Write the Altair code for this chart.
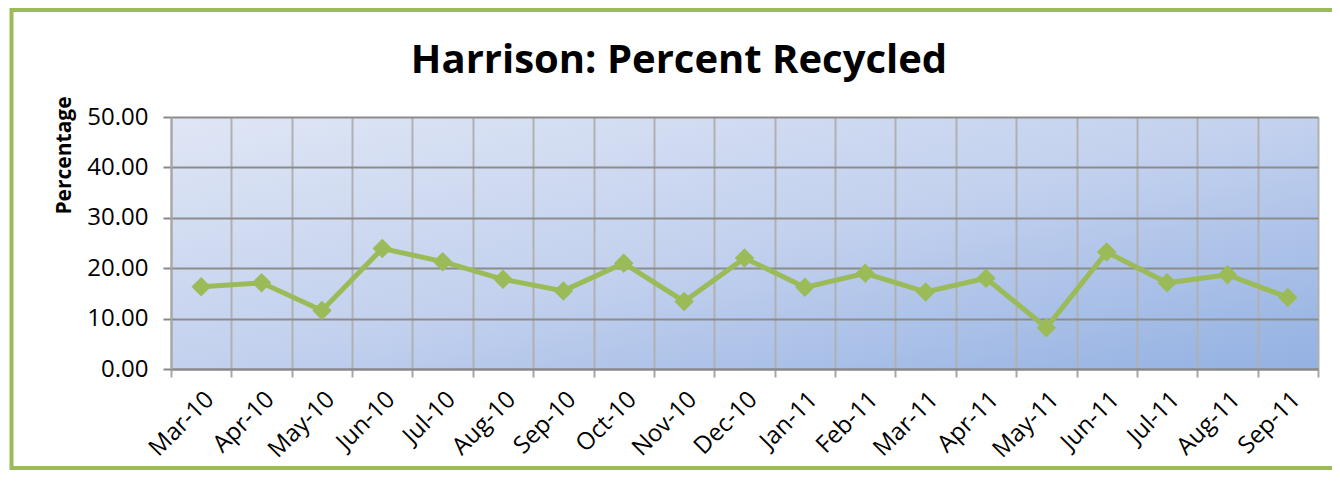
import altair as alt
import pandas as pd

months = ["Mar-10", "Apr-10", "May-10", "Jun-10", "Jul-10", "Aug-10", "Sep-10",
          "Oct-10", "Nov-10", "Dec-10", "Jan-11", "Feb-11", "Mar-11", "Apr-11",
          "May-11", "Jun-11", "Jul-11", "Aug-11", "Sep-11"]
percent = [16.3, 17.1, 11.6, 23.9, 21.3, 17.8, 15.5, 21.0, 13.4, 22.0,
           16.2, 19.0, 15.3, 18.0, 8.2, 23.2, 17.1, 18.7, 14.2]
y_ticks = [0, 10, 20, 30, 40, 50]
title_text = "Harrison: Percent Recycled"
y_title = "Percentage"

df = pd.DataFrame({"Month": months, "Percentage": percent})

FONT = "Open Sans"
GREEN = "#9bbb59"

x_enc = alt.X(
    "Month:N", sort=months,
    scale=alt.Scale(type="band", paddingInner=0, paddingOuter=0),
    axis=alt.Axis(title=None, labelAngle=315, labelAlign="right", labelBaseline="top",
                  labelFont=FONT, labelFontSize=24, labelColor="black", labelPadding=10,
                  tickBand="extent", tickSize=8, tickColor="#a6a6a6", tickWidth=2,
                  grid=True, gridColor="#b0b0b0", gridWidth=2,
                  domainColor="#888888", domainWidth=2, labelOverlap=False),
)
y_enc = alt.Y(
    "Percentage:Q",
    scale=alt.Scale(domain=[0, 50], nice=False),
    axis=alt.Axis(values=y_ticks, format=".2f", title=y_title,
                  titleFont=FONT, titleFontSize=21, titleFontWeight="bold", titleColor="black",
                  titleAngle=270, titleX=-101, titleY=38, titleAlign="center",
                  titleBaseline="alphabetic",
                  labelFont=FONT, labelFontSize=24, labelColor="black", labelPadding=15,
                  tickSize=8, tickColor="#888888", tickWidth=2,
                  grid=True, gridColor="#8c8c8c", gridWidth=2,
                  domainColor="#a6a6a6", domainWidth=2),
)

base = alt.Chart(df)
line = base.mark_line(color=GREEN, strokeWidth=5).encode(x=x_enc, y=y_enc)
pts = base.mark_point(shape="diamond", filled=True, size=380, color=GREEN, opacity=1).encode(
    x=x_enc, y=y_enc)

frame = alt.Chart(alt.Data(values=[{"k": 1}])).mark_rect(
    fillOpacity=0, stroke=GREEN, strokeWidth=4
).encode(x=alt.value(-159.5), x2=alt.value(1175), y=alt.value(-107), y2=alt.value(351))

title = alt.Chart(alt.Data(values=[{"label": title_text}])).mark_text(
    font=FONT, fontSize=40, fontWeight="bold", color="black",
    align="center", baseline="alphabetic"
).encode(x=alt.value(508), y=alt.value(-44), text="label:N")

grad_expr = ("{gradient: 'linear', x1: 0, y1: 0, x2: 1, y2: 1, stops: ["
             "{offset: 0, color: '#dfe6f5'}, {offset: 0.5, color: '#c3d1ee'}, "
             "{offset: 1, color: '#93b1e2'}]}")

chart = alt.layer(frame, line, pts, title).properties(
    width=1147, height=252,
    autosize=alt.AutoSizeParams(type="none"),
    padding={"left": 163, "top": 109, "right": 14, "bottom": 102},
    view=alt.ViewBackground(fill=alt.ExprRef(expr=grad_expr), stroke="transparent"),
    background="white",
)

chart.save("out.html", embed_options={"renderer": "svg", "actions": False})
